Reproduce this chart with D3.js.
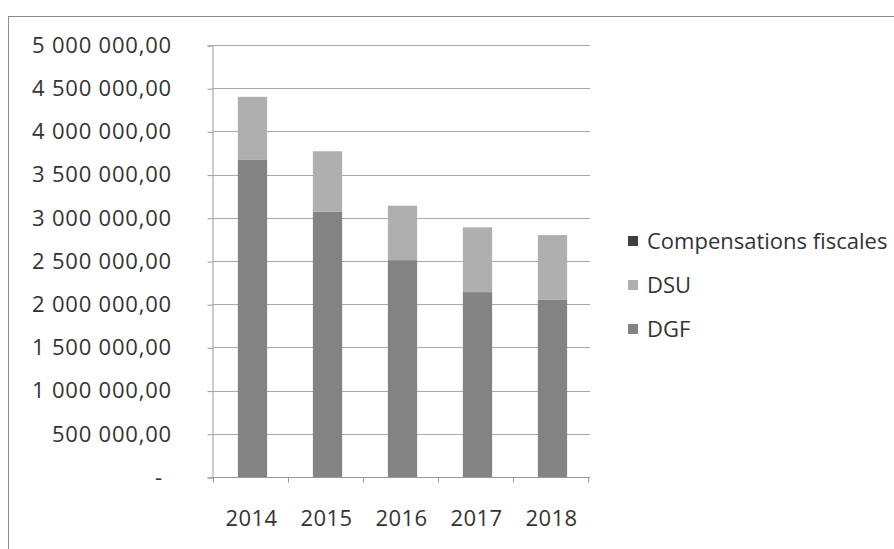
<!DOCTYPE html>
<html>
<head>
<meta charset="utf-8">
<script src="https://cdn.jsdelivr.net/npm/d3@7"></script>
<style>
  body { margin: 0; background: #fff; }
  text { font-family: "Open Sans", sans-serif; fill: #333; }
</style>
</head>
<body>
<div id="chart"></div>
<script>
// data
var years = ["2014", "2015", "2016", "2017", "2018"];
var dgf = [3670000, 3070000, 2510000, 2140000, 2050000];
var dsu = [730000, 700000, 630000, 750000, 750000];
var compensations = [0, 0, 0, 0, 0]; // not visible on the scan
var seriesNames = ["DGF", "DSU", "Compensations fiscales"]; // bottom -> top
var yTicks = [0, 500000, 1000000, 1500000, 2000000, 2500000, 3000000, 3500000, 4000000, 4500000, 5000000];

function init(){
    var w = 894, h = 549;
    var colors = {"DGF": "#838383", "DSU": "#afafaf", "Compensations fiscales": "#3e3e3e"};

    var table = years.map(function(y, i){
        return {year: y, "DGF": dgf[i], "DSU": dsu[i], "Compensations fiscales": compensations[i]};
    });
    var stacked = d3.stack().keys(seriesNames)(table);

    var svg = d3.select("#chart").append("svg")
        .attr("width", w)
        .attr("height", h);

    // outer chart frame (runs off the page on right and bottom)
    svg.append("rect")
        .attr("x", 8.5).attr("y", 16.5)
        .attr("width", 950).attr("height", 600)
        .attr("fill", "none")
        .attr("stroke", "#8c8c8c");

    var xScale = d3.scaleBand().domain(years).range([213, 588]).paddingInner(0.61).paddingOuter(0.305);
    var yScale = d3.scaleLinear().domain([0, 5000000]).range([477, 45]);

    var fmt = function(v){
        if (v === 0) return "-";
        var s = d3.format(",.2f")(v);
        return s.replace(/,/g, " ").replace(".", ",");
    };

    // gridlines
    svg.append("g").selectAll("line")
        .data(yTicks.slice(1))
        .enter().append("line")
        .attr("x1", 213).attr("x2", 590)
        .attr("y1", function(d){ return Math.round(yScale(d)) + 0.5; })
        .attr("y2", function(d){ return Math.round(yScale(d)) + 0.5; })
        .attr("stroke", "#a8a8a8");

    // y axis
    var yAxis = d3.axisLeft(yScale).tickValues(yTicks).tickSize(5).tickFormat("");
    var gy = svg.append("g").attr("transform", "translate(212.5,0.5)").call(yAxis);
    gy.select(".domain").attr("stroke", "#999");
    gy.selectAll(".tick line").attr("stroke", "#999");

    svg.append("g").selectAll("text")
        .data(yTicks)
        .enter().append("text")
        .attr("x", function(d){ return d === 0 ? 163 : 172; })
        .attr("y", function(d){ return yScale(d); })
        .attr("dy", "0.35em")
        .attr("text-anchor", "end")
        .style("font-size", "22px")
        .style("letter-spacing", "0.8px")
        .text(fmt);

    // bars
    svg.append("g").selectAll("g")
        .data(stacked)
        .enter().append("g")
        .attr("fill", function(d){ return colors[d.key]; })
        .selectAll("rect")
        .data(function(d){ return d; })
        .enter().append("rect")
        .attr("x", function(d){ return xScale(d.data.year) + 2; })
        .attr("width", xScale.bandwidth())
        .attr("y", function(d){ return yScale(d[1]); })
        .attr("height", function(d){ return yScale(d[0]) - yScale(d[1]); });

    // x axis
    var xLine = d3.scaleLinear().domain([0, years.length]).range([213, 588]);
    var gx = svg.append("g").attr("transform", "translate(0.5,477.5)");
    gx.append("line").attr("x1", 212).attr("x2", 590).attr("stroke", "#999");
    gx.selectAll(".tk")
        .data(d3.range(years.length + 1))
        .enter().append("line")
        .attr("x1", function(d){ return xLine(d); })
        .attr("x2", function(d){ return xLine(d); })
        .attr("y1", 0).attr("y2", 5)
        .attr("stroke", "#999");

    svg.append("g").selectAll("text")
        .data(years)
        .enter().append("text")
        .attr("x", function(d){ return xScale(d) + xScale.bandwidth() / 2 + 1; })
        .attr("y", 518)
        .attr("dy", "0.35em")
        .attr("text-anchor", "middle")
        .style("font-size", "22px")
        .style("letter-spacing", "0.4px")
        .text(function(d){ return d; });

    // legend, top of stack first like Excel
    var legendOrder = seriesNames.slice().reverse();
    var lg = svg.append("g").selectAll("g")
        .data(legendOrder)
        .enter().append("g")
        .attr("transform", function(d, i){ return "translate(628," + (241 + i * 44) + ")"; });
    lg.append("rect")
        .attr("x", 0).attr("y", -5)
        .attr("width", 10).attr("height", 10)
        .attr("fill", function(d){ return colors[d]; });
    lg.append("text")
        .attr("x", 19).attr("y", 0)
        .attr("dy", "0.35em")
        .style("font-size", "22px")
        .text(function(d){ return d; });
}
window.onload = init;
</script>
</body>
</html>
